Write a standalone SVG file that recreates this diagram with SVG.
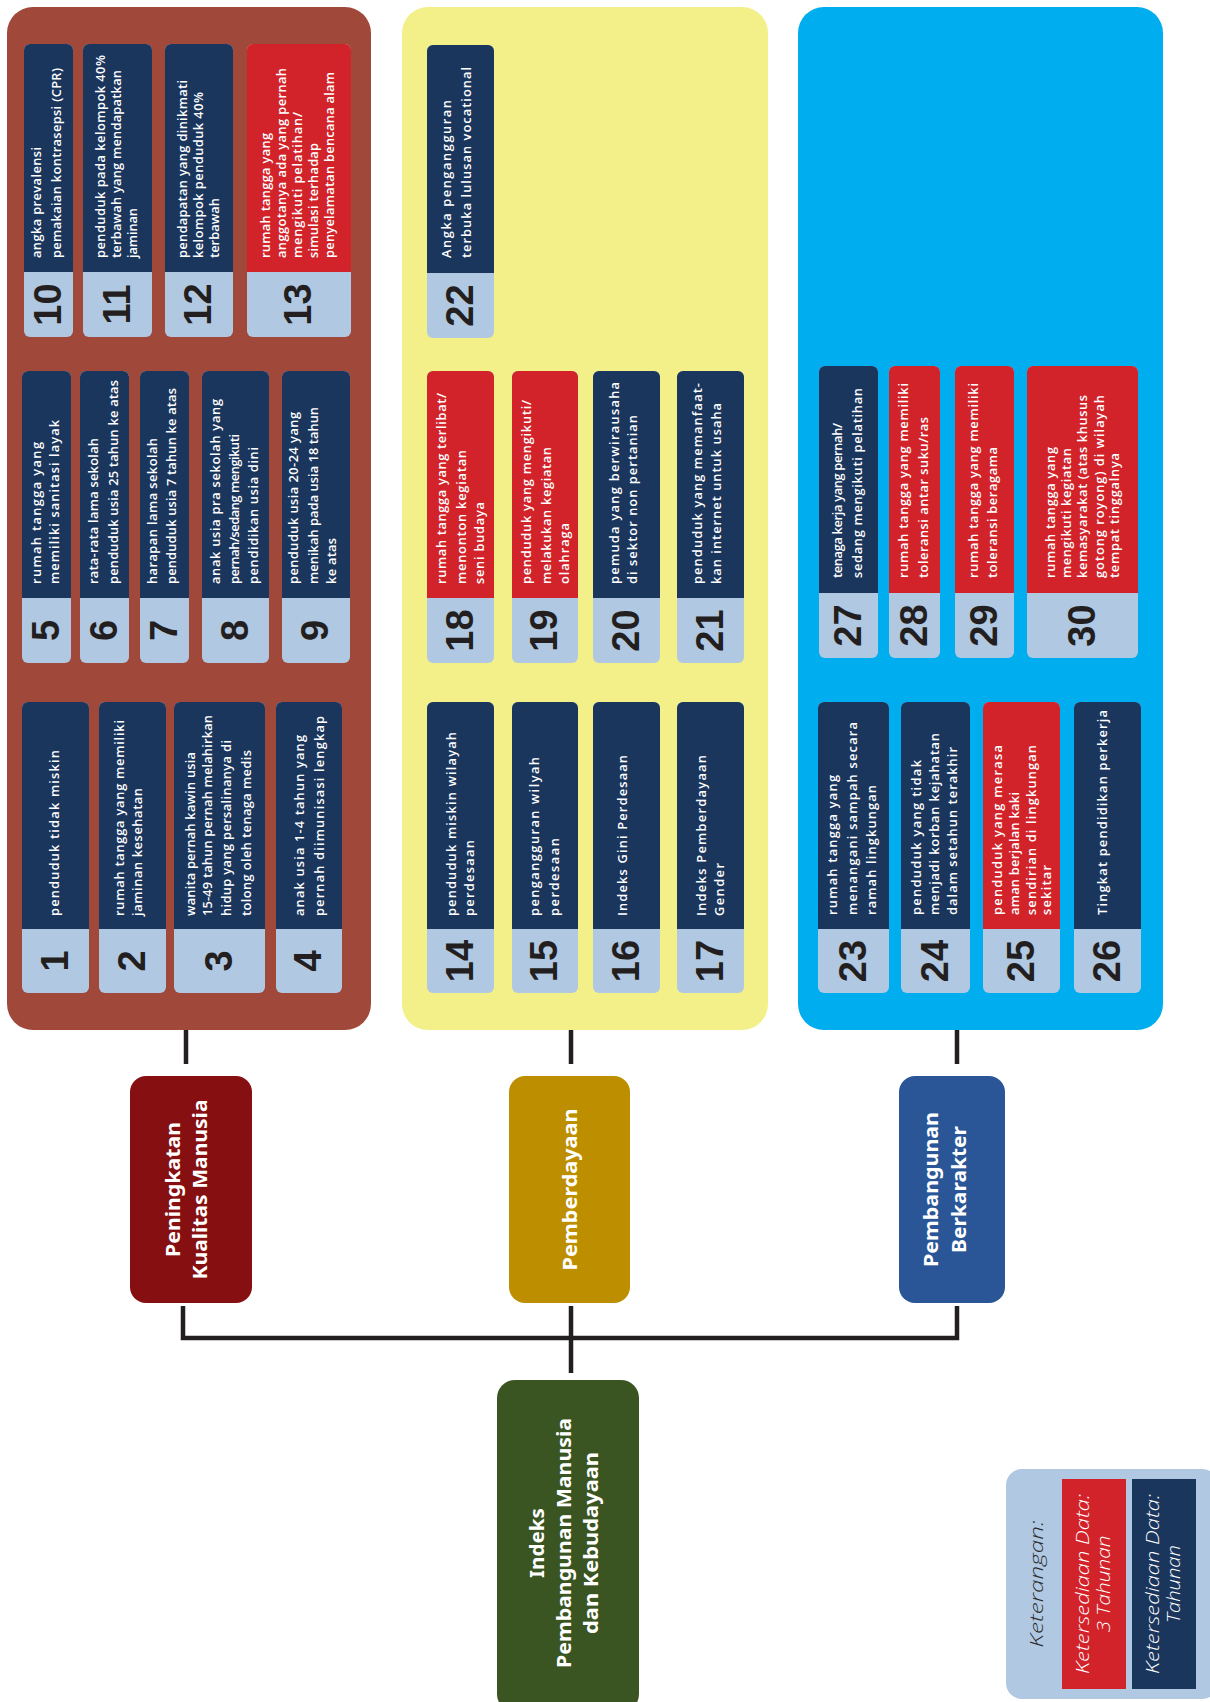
<svg xmlns="http://www.w3.org/2000/svg" width="1210" height="1702" viewBox="0 0 1210 1702">
<style>
.nv{fill:#1B365D}.rd{fill:#D2232A}.lb{fill:#B0C8E2}
.t{font-family:"Open Sans","Noto Sans",sans-serif;font-weight:600;font-size:12.8px;fill:#fff}
.n{font-family:"Liberation Sans",Arial,sans-serif;font-weight:700;font-size:38px;fill:#231F20;text-anchor:middle}
.h{font-family:"Noto Sans","Open Sans",sans-serif;font-weight:700;font-size:19.5px;fill:#fff;text-anchor:middle}
.g{font-family:"Noto Sans","Open Sans",sans-serif;font-weight:700;font-size:20px;fill:#fff;text-anchor:middle}
.k{font-family:"Open Sans","Noto Sans",sans-serif;font-style:italic;font-weight:300;font-size:18px;text-anchor:middle}
.cn{fill:none;stroke:#231F20;stroke-width:4.5}
</style>

<g id="panel-kualitas"><rect x="7" y="7" width="364" height="1023" rx="26" fill="#A0493B"/></g>
<g id="panel-pemberdayaan"><rect x="402" y="7" width="366" height="1023" rx="26" fill="#F3EF89"/></g>
<g id="panel-karakter"><rect x="798" y="7" width="365" height="1023" rx="26" fill="#00AEEF"/></g>

<g id="connectors">
<path class="cn" d="M186,1030 V1064 M571,1030 V1064 M957,1030 V1064"/>
<path class="cn" d="M183,1306 V1338 H957 V1306 M571,1306 V1373"/>
</g>

<!-- Row A brown -->
<g id="node-10">
<rect class="lb" x="24" y="44" width="49" height="293" rx="6"/><rect class="nv" x="24" y="44" width="49" height="228" rx="6"/><rect class="nv" x="24" y="262" width="49" height="10"/>
<g transform="translate(0,258) rotate(-90)"><text class="t" x="0" y="41.3" textLength="111" lengthAdjust="spacing">angka prevalensi</text><text class="t" x="0" y="61.3" textLength="190" lengthAdjust="spacing">pemakaian kontrasepsi (CPR)</text></g>
<text class="n" transform="translate(0,304.5) rotate(-90)" x="0" y="60.5">10</text>
</g>
<g id="node-11">
<rect class="lb" x="83" y="44" width="69" height="293" rx="6"/><rect class="nv" x="83" y="44" width="69" height="228" rx="6"/><rect class="nv" x="83" y="262" width="69" height="10"/>
<g transform="translate(0,258) rotate(-90)"><text class="t" x="0" y="104.5" textLength="203" lengthAdjust="spacing">penduduk pada kelompok 40%</text><text class="t" x="0" y="120.5" textLength="188" lengthAdjust="spacing">terbawah yang mendapatkan</text><text class="t" x="0" y="136.5" textLength="50" lengthAdjust="spacing">jaminan</text></g>
<text class="n" transform="translate(0,304.5) rotate(-90)" x="0" y="129.5">11</text>
</g>
<g id="node-12">
<rect class="lb" x="165" y="44" width="68" height="293" rx="6"/><rect class="nv" x="165" y="44" width="68" height="228" rx="6"/><rect class="nv" x="165" y="262" width="68" height="10"/>
<g transform="translate(0,258) rotate(-90)"><text class="t" x="0" y="186.5" textLength="178" lengthAdjust="spacing">pendapatan yang dinikmati</text><text class="t" x="0" y="202.5" textLength="166" lengthAdjust="spacing">kelompok penduduk 40%</text><text class="t" x="0" y="218.5" textLength="60" lengthAdjust="spacing">terbawah</text></g>
<text class="n" transform="translate(0,304.5) rotate(-90)" x="0" y="211">12</text>
</g>
<g id="node-13">
<rect class="lb" x="247" y="44" width="104" height="293" rx="6"/><rect class="rd" x="247" y="44" width="104" height="228" rx="6"/><rect class="rd" x="247" y="262" width="104" height="10"/>
<g transform="translate(0,258) rotate(-90)"><text class="t" x="0" y="269.5" textLength="125" lengthAdjust="spacing">rumah tangga yang</text><text class="t" x="0" y="285.5" textLength="190" lengthAdjust="spacing">anggotanya ada yang pernah</text><text class="t" x="0" y="301.5" textLength="146" lengthAdjust="spacing">mengikuti pelatihan/</text><text class="t" x="0" y="317.5" textLength="115" lengthAdjust="spacing">simulasi terhadap</text><text class="t" x="0" y="333.5" textLength="186" lengthAdjust="spacing">penyelamatan bencana alam</text></g>
<text class="n" transform="translate(0,304.5) rotate(-90)" x="0" y="311">13</text>
</g>

<!-- Row B brown -->
<g id="node-5">
<rect class="lb" x="22" y="371" width="49" height="292" rx="6"/><rect class="nv" x="22" y="371" width="49" height="227" rx="6"/><rect class="nv" x="22" y="588" width="49" height="10"/>
<g transform="translate(0,584) rotate(-90)"><text class="t" x="0" y="40.5" textLength="142" lengthAdjust="spacing">rumah tangga yang</text><text class="t" x="0" y="58.8" textLength="164" lengthAdjust="spacing">memiliki sanitasi layak</text></g>
<text class="n" transform="translate(0,630.5) rotate(-90)" x="0" y="58.5">5</text>
</g>
<g id="node-6">
<rect class="lb" x="80" y="371" width="49" height="292" rx="6"/><rect class="nv" x="80" y="371" width="49" height="227" rx="6"/><rect class="nv" x="80" y="588" width="49" height="10"/>
<g transform="translate(0,584) rotate(-90)"><text class="t" x="0" y="97.7" textLength="146" lengthAdjust="spacing">rata-rata lama sekolah</text><text class="t" x="0" y="118" textLength="204" lengthAdjust="spacing">penduduk usia 25 tahun ke atas</text></g>
<text class="n" transform="translate(0,630.5) rotate(-90)" x="0" y="116.5">6</text>
</g>
<g id="node-7">
<rect class="lb" x="140" y="371" width="49" height="292" rx="6"/><rect class="nv" x="140" y="371" width="49" height="227" rx="6"/><rect class="nv" x="140" y="588" width="49" height="10"/>
<g transform="translate(0,584) rotate(-90)"><text class="t" x="0" y="156.8" textLength="146" lengthAdjust="spacing">harapan lama sekolah</text><text class="t" x="0" y="176.3" textLength="196" lengthAdjust="spacing">penduduk usia 7 tahun ke atas</text></g>
<text class="n" transform="translate(0,630.5) rotate(-90)" x="0" y="176.5">7</text>
</g>
<g id="node-8">
<rect class="lb" x="202" y="371" width="67" height="292" rx="6"/><rect class="nv" x="202" y="371" width="67" height="227" rx="6"/><rect class="nv" x="202" y="588" width="67" height="10"/>
<g transform="translate(0,584) rotate(-90)"><text class="t" x="0" y="220.3" textLength="185" lengthAdjust="spacing">anak usia pra sekolah yang</text><text class="t" x="0" y="238.8" textLength="150" lengthAdjust="spacing">pernah/sedang mengikuti</text><text class="t" x="0" y="258.3" textLength="137" lengthAdjust="spacing">pendidikan usia dini</text></g>
<text class="n" transform="translate(0,630.5) rotate(-90)" x="0" y="247.5">8</text>
</g>
<g id="node-9">
<rect class="lb" x="282" y="371" width="68" height="292" rx="6"/><rect class="nv" x="282" y="371" width="68" height="227" rx="6"/><rect class="nv" x="282" y="588" width="68" height="10"/>
<g transform="translate(0,584) rotate(-90)"><text class="t" x="0" y="298" textLength="172" lengthAdjust="spacing">penduduk usia 20-24 yang</text><text class="t" x="0" y="318" textLength="177" lengthAdjust="spacing">menikah pada usia 18 tahun</text><text class="t" x="0" y="336.3" textLength="46" lengthAdjust="spacing">ke atas</text></g>
<text class="n" transform="translate(0,630.5) rotate(-90)" x="0" y="328">9</text>
</g>

<!-- Row C brown -->
<g id="node-1">
<rect class="lb" x="22" y="702" width="67" height="291" rx="6"/><rect class="nv" x="22" y="702" width="67" height="227" rx="6"/><rect class="nv" x="22" y="919" width="67" height="10"/>
<g transform="translate(0,916) rotate(-90)"><text class="t" x="0" y="58.8" textLength="166" lengthAdjust="spacing">penduduk tidak miskin</text></g>
<text class="n" transform="translate(0,961) rotate(-90)" x="0" y="67.5">1</text>
</g>
<g id="node-2">
<rect class="lb" x="99" y="702" width="67" height="291" rx="6"/><rect class="nv" x="99" y="702" width="67" height="227" rx="6"/><rect class="nv" x="99" y="919" width="67" height="10"/>
<g transform="translate(0,916) rotate(-90)"><text class="t" x="0" y="123.8" textLength="196" lengthAdjust="spacing">rumah tangga yang memiliki</text><text class="t" x="0" y="142.2" textLength="128" lengthAdjust="spacing">jaminan kesehatan</text></g>
<text class="n" transform="translate(0,961) rotate(-90)" x="0" y="144.5">2</text>
</g>
<g id="node-3">
<rect class="lb" x="174" y="702" width="91" height="291" rx="6"/><rect class="nv" x="174" y="702" width="91" height="227" rx="6"/><rect class="nv" x="174" y="919" width="91" height="10"/>
<g transform="translate(0,916) rotate(-90)"><text class="t" x="0" y="194.7" textLength="164" lengthAdjust="spacing">wanita pernah kawin usia</text><text class="t" x="0" y="212.2" textLength="201" lengthAdjust="spacing">15-49 tahun pernah melahirkan</text><text class="t" x="0" y="231.3" textLength="176" lengthAdjust="spacing">hidup yang persalinanya di</text><text class="t" x="0" y="251.3" textLength="166" lengthAdjust="spacing">tolong oleh tenaga medis</text></g>
<text class="n" transform="translate(0,961) rotate(-90)" x="0" y="231.5">3</text>
</g>
<g id="node-4">
<rect class="lb" x="276" y="702" width="66" height="291" rx="6"/><rect class="nv" x="276" y="702" width="66" height="227" rx="6"/><rect class="nv" x="276" y="919" width="66" height="10"/>
<g transform="translate(0,916) rotate(-90)"><text class="t" x="0" y="303.8" textLength="181" lengthAdjust="spacing">anak usia 1-4 tahun yang</text><text class="t" x="0" y="323.8" textLength="200" lengthAdjust="spacing">pernah diimunisasi lengkap</text></g>
<text class="n" transform="translate(0,961) rotate(-90)" x="0" y="321">4</text>
</g>

<!-- Yellow panel -->
<g id="node-22">
<rect class="lb" x="427" y="45" width="67" height="293" rx="6"/><rect class="nv" x="427" y="45" width="67" height="228" rx="6"/><rect class="nv" x="427" y="263" width="67" height="10"/>
<g transform="translate(0,258) rotate(-90)"><text class="t" x="0" y="450.5" textLength="158" lengthAdjust="spacing">Angka pengangguran</text><text class="t" x="0" y="470.5" textLength="191" lengthAdjust="spacing">terbuka lulusan vocational</text></g>
<text class="n" transform="translate(0,305.5) rotate(-90)" x="0" y="472.5">22</text>
</g>
<g id="node-18">
<rect class="lb" x="427" y="371" width="67" height="292" rx="6"/><rect class="rd" x="427" y="371" width="67" height="227" rx="6"/><rect class="rd" x="427" y="588" width="67" height="10"/>
<g transform="translate(0,584) rotate(-90)"><text class="t" x="0" y="445.5" textLength="191" lengthAdjust="spacing">rumah tangga yang terlibat/</text><text class="t" x="0" y="465.5" textLength="134" lengthAdjust="spacing">menonton kegiatan</text><text class="t" x="0" y="483.8" textLength="82" lengthAdjust="spacing">seni budaya</text></g>
<text class="n" transform="translate(0,630.5) rotate(-90)" x="0" y="472.5">18</text>
</g>
<g id="node-19">
<rect class="lb" x="512" y="371" width="66" height="292" rx="6"/><rect class="rd" x="512" y="371" width="66" height="227" rx="6"/><rect class="rd" x="512" y="588" width="66" height="10"/>
<g transform="translate(0,584) rotate(-90)"><text class="t" x="0" y="530.5" textLength="184" lengthAdjust="spacing">penduduk yang mengikuti/</text><text class="t" x="0" y="550.5" textLength="137" lengthAdjust="spacing">melakukan kegiatan</text><text class="t" x="0" y="568.8" textLength="61" lengthAdjust="spacing">olahraga</text></g>
<text class="n" transform="translate(0,630.5) rotate(-90)" x="0" y="557">19</text>
</g>
<g id="node-20">
<rect class="lb" x="593" y="371" width="67" height="292" rx="6"/><rect class="nv" x="593" y="371" width="67" height="227" rx="6"/><rect class="nv" x="593" y="588" width="67" height="10"/>
<g transform="translate(0,584) rotate(-90)"><text class="t" x="0" y="618.8" textLength="202" lengthAdjust="spacing">pemuda yang berwirausaha</text><text class="t" x="0" y="637.2" textLength="169" lengthAdjust="spacing">di sektor non pertanian</text></g>
<text class="n" transform="translate(0,630.5) rotate(-90)" x="0" y="638.5">20</text>
</g>
<g id="node-21">
<rect class="lb" x="677" y="371" width="67" height="292" rx="6"/><rect class="nv" x="677" y="371" width="67" height="227" rx="6"/><rect class="nv" x="677" y="588" width="67" height="10"/>
<g transform="translate(0,584) rotate(-90)"><text class="t" x="0" y="702.2" textLength="201" lengthAdjust="spacing">penduduk yang memanfaat-</text><text class="t" x="0" y="720.5" textLength="181" lengthAdjust="spacing">kan internet untuk usaha</text></g>
<text class="n" transform="translate(0,630.5) rotate(-90)" x="0" y="722.5">21</text>
</g>
<g id="node-14">
<rect class="lb" x="427" y="702" width="67" height="291" rx="6"/><rect class="nv" x="427" y="702" width="67" height="227" rx="6"/><rect class="nv" x="427" y="919" width="67" height="10"/>
<g transform="translate(0,916) rotate(-90)"><text class="t" x="0" y="455.5" textLength="184" lengthAdjust="spacing">penduduk miskin wilayah</text><text class="t" x="0" y="473.8" textLength="76" lengthAdjust="spacing">perdesaan</text></g>
<text class="n" transform="translate(0,961) rotate(-90)" x="0" y="472.5">14</text>
</g>
<g id="node-15">
<rect class="lb" x="512" y="702" width="66" height="291" rx="6"/><rect class="nv" x="512" y="702" width="66" height="227" rx="6"/><rect class="nv" x="512" y="919" width="66" height="10"/>
<g transform="translate(0,916) rotate(-90)"><text class="t" x="0" y="538.8" textLength="159" lengthAdjust="spacing">pengangguran wilyah</text><text class="t" x="0" y="558.8" textLength="78" lengthAdjust="spacing">perdesaan</text></g>
<text class="n" transform="translate(0,961) rotate(-90)" x="0" y="557">15</text>
</g>
<g id="node-16">
<rect class="lb" x="593" y="702" width="67" height="291" rx="6"/><rect class="nv" x="593" y="702" width="67" height="227" rx="6"/><rect class="nv" x="593" y="919" width="67" height="10"/>
<g transform="translate(0,916) rotate(-90)"><text class="t" x="0" y="627.2" textLength="161" lengthAdjust="spacing">Indeks Gini Perdesaan</text></g>
<text class="n" transform="translate(0,961) rotate(-90)" x="0" y="638.5">16</text>
</g>
<g id="node-17">
<rect class="lb" x="677" y="702" width="67" height="291" rx="6"/><rect class="nv" x="677" y="702" width="67" height="227" rx="6"/><rect class="nv" x="677" y="919" width="67" height="10"/>
<g transform="translate(0,916) rotate(-90)"><text class="t" x="0" y="705.5" textLength="161" lengthAdjust="spacing">Indeks Pemberdayaan</text><text class="t" x="0" y="723.8" textLength="53" lengthAdjust="spacing">Gender</text></g>
<text class="n" transform="translate(0,961) rotate(-90)" x="0" y="722.5">17</text>
</g>

<!-- Blue panel -->
<g id="node-27">
<rect class="lb" x="819" y="366" width="59" height="292" rx="6"/><rect class="nv" x="819" y="366" width="59" height="227" rx="6"/><rect class="nv" x="819" y="583" width="59" height="10"/>
<g transform="translate(0,578) rotate(-90)"><text class="t" x="0" y="842.2" textLength="155" lengthAdjust="spacing">tenaga kerja yang pernah/</text><text class="t" x="0" y="862.2" textLength="190" lengthAdjust="spacing">sedang mengikuti pelatihan</text></g>
<text class="n" transform="translate(0,625.5) rotate(-90)" x="0" y="860.5">27</text>
</g>
<g id="node-28">
<rect class="lb" x="889" y="366" width="51" height="292" rx="6"/><rect class="rd" x="889" y="366" width="51" height="227" rx="6"/><rect class="rd" x="889" y="583" width="51" height="10"/>
<g transform="translate(0,578) rotate(-90)"><text class="t" x="0" y="908" textLength="195" lengthAdjust="spacing">rumah tangga yang memiliki</text><text class="t" x="0" y="928" textLength="161" lengthAdjust="spacing">toleransi antar suku/ras</text></g>
<text class="n" transform="translate(0,625.5) rotate(-90)" x="0" y="926.5">28</text>
</g>
<g id="node-29">
<rect class="lb" x="955" y="366" width="59" height="292" rx="6"/><rect class="rd" x="955" y="366" width="59" height="227" rx="6"/><rect class="rd" x="955" y="583" width="59" height="10"/>
<g transform="translate(0,578) rotate(-90)"><text class="t" x="0" y="978" textLength="195" lengthAdjust="spacing">rumah tangga yang memiliki</text><text class="t" x="0" y="997.2" textLength="131" lengthAdjust="spacing">toleransi beragama</text></g>
<text class="n" transform="translate(0,625.5) rotate(-90)" x="0" y="996.5">29</text>
</g>
<g id="node-30">
<rect class="lb" x="1027" y="366" width="111" height="292" rx="6"/><rect class="rd" x="1027" y="366" width="111" height="227" rx="6"/><rect class="rd" x="1027" y="583" width="111" height="10"/>
<g transform="translate(0,578) rotate(-90)"><text class="t" x="0" y="1054.7" textLength="131" lengthAdjust="spacing">rumah tangga yang</text><text class="t" x="0" y="1070.5" textLength="130" lengthAdjust="spacing">mengikuti kegiatan</text><text class="t" x="0" y="1087.2" textLength="183" lengthAdjust="spacing">kemasyarakat (atas khusus</text><text class="t" x="0" y="1103.8" textLength="183" lengthAdjust="spacing">gotong royong) di wilayah</text><text class="t" x="0" y="1118.8" textLength="125" lengthAdjust="spacing">tempat tinggalnya</text></g>
<text class="n" transform="translate(0,625.5) rotate(-90)" x="0" y="1094.5">30</text>
</g>
<g id="node-23">
<rect class="lb" x="818" y="702" width="71" height="291" rx="6"/><rect class="nv" x="818" y="702" width="71" height="227" rx="6"/><rect class="nv" x="818" y="919" width="71" height="10"/>
<g transform="translate(0,915) rotate(-90)"><text class="t" x="0" y="837.2" textLength="140" lengthAdjust="spacing">rumah tangga yang</text><text class="t" x="0" y="857.2" textLength="193" lengthAdjust="spacing">menangani sampah secara</text><text class="t" x="0" y="875.5" textLength="130" lengthAdjust="spacing">ramah lingkungan</text></g>
<text class="n" transform="translate(0,961) rotate(-90)" x="0" y="865.5">23</text>
</g>
<g id="node-24">
<rect class="lb" x="901" y="702" width="69" height="291" rx="6"/><rect class="nv" x="901" y="702" width="69" height="227" rx="6"/><rect class="nv" x="901" y="919" width="69" height="10"/>
<g transform="translate(0,915) rotate(-90)"><text class="t" x="0" y="920.5" textLength="155" lengthAdjust="spacing">penduduk yang tidak</text><text class="t" x="0" y="938.8" textLength="182" lengthAdjust="spacing">menjadi korban kejahatan</text><text class="t" x="0" y="957.2" textLength="168" lengthAdjust="spacing">dalam setahun terakhir</text></g>
<text class="n" transform="translate(0,961) rotate(-90)" x="0" y="947.5">24</text>
</g>
<g id="node-25">
<rect class="lb" x="983" y="702" width="77" height="291" rx="6"/><rect class="rd" x="983" y="702" width="77" height="227" rx="6"/><rect class="rd" x="983" y="919" width="77" height="10"/>
<g transform="translate(0,915) rotate(-90)"><text class="t" x="0" y="1002.2" textLength="170" lengthAdjust="spacing">penduduk yang merasa</text><text class="t" x="0" y="1018.8" textLength="123" lengthAdjust="spacing">aman berjalan kaki</text><text class="t" x="0" y="1035.5" textLength="170" lengthAdjust="spacing">sendirian di lingkungan</text><text class="t" x="0" y="1050.5" textLength="50" lengthAdjust="spacing">sekitar</text></g>
<text class="n" transform="translate(0,961) rotate(-90)" x="0" y="1033.5">25</text>
</g>
<g id="node-26">
<rect class="lb" x="1074" y="702" width="67" height="291" rx="6"/><rect class="nv" x="1074" y="702" width="67" height="227" rx="6"/><rect class="nv" x="1074" y="919" width="67" height="10"/>
<g transform="translate(0,915) rotate(-90)"><text class="t" x="0" y="1107.2" textLength="205" lengthAdjust="spacing">Tingkat pendidikan perkerja</text></g>
<text class="n" transform="translate(0,961) rotate(-90)" x="0" y="1119.5">26</text>
</g>

<!-- Category nodes -->
<g id="node-peningkatan">
<rect x="130" y="1076" width="122" height="227" rx="16" fill="#850F11"/>
<g transform="translate(0,1189.5) rotate(-90)"><text class="h" x="0" y="180" textLength="135" lengthAdjust="spacingAndGlyphs">Peningkatan</text><text class="h" x="0" y="207" textLength="180" lengthAdjust="spacingAndGlyphs">Kualitas Manusia</text></g>
</g>
<g id="node-pemberdayaan">
<rect x="509" y="1076" width="121" height="227" rx="16" fill="#BD8F00"/>
<g transform="translate(0,1189.5) rotate(-90)"><text class="h" x="0" y="577" textLength="162" lengthAdjust="spacingAndGlyphs">Pemberdayaan</text></g>
</g>
<g id="node-pembangunan">
<rect x="899" y="1076" width="106" height="227" rx="16" fill="#2A5697"/>
<g transform="translate(0,1189.5) rotate(-90)"><text class="h" x="0" y="938" textLength="155" lengthAdjust="spacingAndGlyphs">Pembangunan</text><text class="h" x="0" y="966" textLength="127" lengthAdjust="spacingAndGlyphs">Berkarakter</text></g>
</g>
<g id="node-indeks">
<rect x="497" y="1380" width="142" height="332" rx="18" fill="#3A5422"/>
<g transform="translate(0,1543) rotate(-90)"><text class="g" x="0" y="544" textLength="70" lengthAdjust="spacingAndGlyphs">Indeks</text><text class="g" x="0" y="571" textLength="250" lengthAdjust="spacingAndGlyphs">Pembangunan Manusia</text><text class="g" x="0" y="598" textLength="182" lengthAdjust="spacingAndGlyphs">dan Kebudayaan</text></g>
</g>

<!-- Legend -->
<g id="legend">
<rect x="1006" y="1469" width="212" height="230" rx="16" fill="#B0C8E2"/>
<rect x="1062" y="1479" width="64" height="210" fill="#D2232A"/>
<rect x="1132" y="1479" width="64" height="210" fill="#1B365D"/>
<g transform="translate(0,1584) rotate(-90)">
<text class="k" x="0" y="1043" fill="#2B2B2B" textLength="127" lengthAdjust="spacingAndGlyphs">Keterangan:</text>
<text class="k" x="0" y="1089" fill="#fff" textLength="180" lengthAdjust="spacingAndGlyphs">Ketersediaan Data:</text>
<text class="k" x="0" y="1110" fill="#fff" textLength="97" lengthAdjust="spacingAndGlyphs">3 Tahunan</text>
<text class="k" x="0" y="1159" fill="#fff" textLength="180" lengthAdjust="spacingAndGlyphs">Ketersediaan Data:</text>
<text class="k" x="0" y="1180" fill="#fff" textLength="78" lengthAdjust="spacingAndGlyphs">Tahunan</text>
</g>
</g>
</svg>
